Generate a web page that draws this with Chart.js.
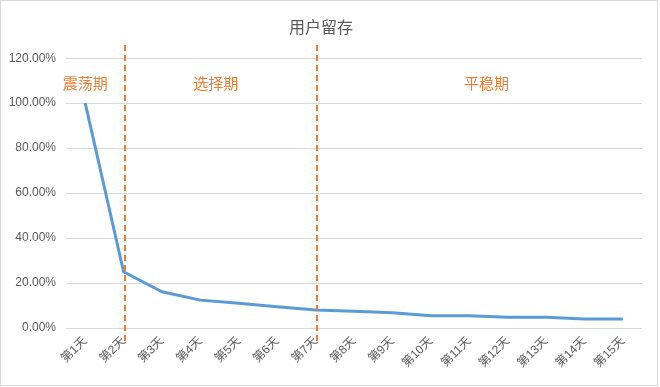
<!DOCTYPE html>
<html><head><meta charset="utf-8">
<script src="https://cdn.jsdelivr.net/npm/chart.js@4"></script>
<style>html,body{margin:0;padding:0;background:#fff}#wrap{width:660px;height:387px}</style>
</head><body><div id="wrap"><canvas id="c"></canvas></div>
<script>
const categories = ['第1天','第2天','第3天','第4天','第5天','第6天','第7天','第8天','第9天','第10天','第11天','第12天','第13天','第14天','第15天'];
const retention = [100, 25, 16.1, 12.4, 11, 9.5, 8, 7.4, 6.8, 5.5, 5.5, 4.8, 4.8, 4.0, 4.0];
const yTicks = [0, 20, 40, 60, 80, 100, 120];
const phaseDividers = [1, 6]; // category indices of dashed lines
const phaseLabels = ['震荡期', '选择期', '平稳期'];
const phaseLabelPos = [0, 3.4, 10.45]; // category positions of labels

const FONT = "'Liberation Sans', 'Noto Sans CJK SC', sans-serif";
const CJK = "'Noto Sans CJK SC', sans-serif";

const phasePlugin = {
  id: 'phases',
  afterDatasetsDraw(chart) {
    const ctx = chart.ctx, x = chart.scales.x, y = chart.scales.y;
    ctx.save();
    ctx.strokeStyle = '#ED7D31';
    ctx.lineWidth = 2;
    ctx.setLineDash([6, 4]);
    phaseDividers.forEach(i => {
      const px = Math.round(x.getPixelForValue(i)) + 1;
      ctx.beginPath();
      ctx.moveTo(px, 45);
      ctx.lineTo(px, y.bottom + 17);
      ctx.stroke();
    });
    ctx.setLineDash([]);
    ctx.fillStyle = '#ED7D31';
    ctx.font = '15px ' + CJK;
    ctx.textAlign = 'center';
    ctx.textBaseline = 'middle';
    phaseLabels.forEach((t, k) => {
      ctx.fillText(t, x.getPixelForValue(phaseLabelPos[k]), 83);
    });
    ctx.restore();
  },
  afterDraw(chart) {
    const ctx = chart.ctx;
    ctx.save();
    ctx.strokeStyle = '#D9D9D9';
    ctx.lineWidth = 1;
    ctx.strokeRect(0.5, 0.5, chart.width - 3, chart.height - 2);
    ctx.restore();
  }
};

new Chart(document.getElementById('c'), {
  type: 'line',
  data: {
    labels: categories,
    datasets: [{
      data: retention,
      borderColor: '#5B9BD5',
      borderWidth: 3,
      pointRadius: 0,
      tension: 0,
      fill: false
    }]
  },
  options: {
    responsive: true,
    maintainAspectRatio: false,
    animation: false,
    layout: { padding: { left: 0, right: 18, top: 0, bottom: 0 } },
    plugins: {
      legend: { display: false },
      tooltip: { enabled: false },
      title: {
        display: true,
        text: '用户留存',
        color: '#595959',
        font: { size: 16, family: CJK, weight: 'normal' },
        padding: { top: 17, bottom: 22 }
      }
    },
    scales: {
      x: {
        offset: true,
        grid: { display: false, drawTicks: false },
        border: { display: false },
        ticks: {
          color: '#595959',
          font: { size: 12, family: FONT },
          maxRotation: 45,
          minRotation: 45,
          autoSkip: false,
          padding: 6
        },
        afterFit(s) { s.height = 59; }
      },
      y: {
        min: 0,
        max: 120,
        afterBuildTicks(s) { s.ticks = yTicks.map(v => ({ value: v })); },
        grid: { color: '#D9D9D9', drawTicks: false, lineWidth: 1 },
        border: { display: false },
        ticks: {
          color: '#595959',
          font: { size: 12, family: FONT },
          padding: 10,
          callback: v => v.toFixed(2) + '%'
        },
        afterFit(s) { s.width = 66; }
      }
    }
  },
  plugins: [phasePlugin]
});
</script>
</body></html>
